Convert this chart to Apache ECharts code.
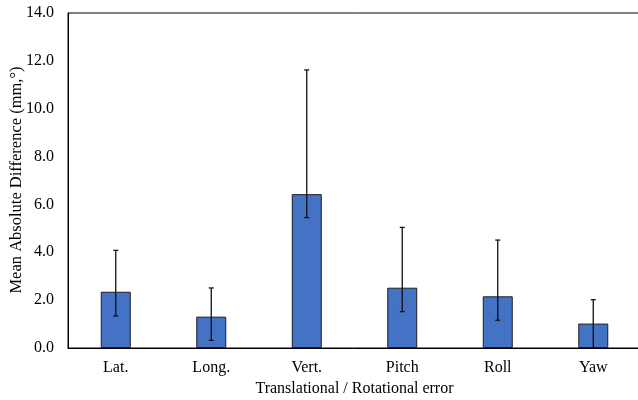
<!DOCTYPE html>
<html>
<head>
<meta charset="utf-8">
<script src="https://cdn.jsdelivr.net/npm/echarts@6/dist/echarts.min.js"></script>
<style>
  html, body { margin: 0; padding: 0; background: #fff; }
  #chart { width: 638px; height: 400px; }
</style>
</head>
<body>
<div id="chart"></div>
<script>
// Mean absolute difference per error component, with error bar ends
const categories = ['Lat.', 'Long.', 'Vert.', 'Pitch', 'Roll', 'Yaw'];
const meanValues = [2.35, 1.31, 6.43, 2.52, 2.16, 1.02];
const errorHigh  = [4.08, 2.51, 11.62, 5.04, 4.51, 2.02];
const errorLow   = [1.34, 0.32, 5.45, 1.52, 1.16, 0.02];
const yTicks = { min: 0, max: 14, interval: 2 };

const serif = '"Liberation Serif", "Times New Roman", serif';

const errorData = categories.map((c, i) => [i, errorLow[i], errorHigh[i]]);

const chart = echarts.init(document.getElementById('chart'));
chart.setOption({
  animation: false,
  backgroundColor: '#ffffff',
  grid: {
    left: 68, top: 13, width: 573, height: 335,
    outerBoundsMode: 'none',
    containLabel: false,
    show: true, borderColor: '#000', borderWidth: 1, backgroundColor: 'transparent'
  },
  xAxis: {
    type: 'category',
    data: categories,
    axisLine: { lineStyle: { color: '#000', width: 1 } },
    axisTick: { show: false },
    axisLabel: { color: '#000', fontFamily: serif, fontSize: 16, margin: 12 },
    name: 'Translational / Rotational error',
    nameLocation: 'middle',
    nameGap: 31,
    nameTextStyle: { color: '#000', fontFamily: serif, fontSize: 16 }
  },
  yAxis: {
    type: 'value',
    min: yTicks.min, max: yTicks.max, interval: yTicks.interval,
    axisLine: { show: true, lineStyle: { color: '#000', width: 1 } },
    axisTick: { show: false },
    splitLine: { show: false },
    axisLabel: {
      color: '#000', fontFamily: serif, fontSize: 16, margin: 14,
      formatter: v => v.toFixed(1)
    }
  },
  graphic: [{
    type: 'text',
    x: 17, y: 180,
    rotation: Math.PI / 2,
    style: {
      text: 'Mean Absolute Difference (mm,°)',
      fill: '#000',
      font: '16.5px ' + serif,
      align: 'center',
      verticalAlign: 'middle'
    }
  }],
  series: [
    {
      type: 'bar',
      data: meanValues,
      barWidth: 30,
      itemStyle: { color: '#4472C4', borderColor: '#1e1e1e', borderWidth: 1 }
    },
    {
      type: 'custom',
      data: errorData,
      z: 10,
      renderItem: function (params, api) {
        const x = api.value(0);
        const lo = api.coord([x, api.value(1)]);
        const hi = api.coord([x, api.value(2)]);
        const cap = 2.5;
        const style = { stroke: '#111', lineWidth: 1.3 };
        return {
          type: 'group',
          children: [
            { type: 'line', shape: { x1: hi[0], y1: hi[1], x2: lo[0], y2: lo[1] }, style },
            { type: 'line', shape: { x1: hi[0] - cap, y1: hi[1], x2: hi[0] + cap, y2: hi[1] }, style },
            { type: 'line', shape: { x1: lo[0] - cap, y1: lo[1], x2: lo[0] + cap, y2: lo[1] }, style }
          ]
        };
      }
    }
  ]
});
</script>
</body>
</html>
